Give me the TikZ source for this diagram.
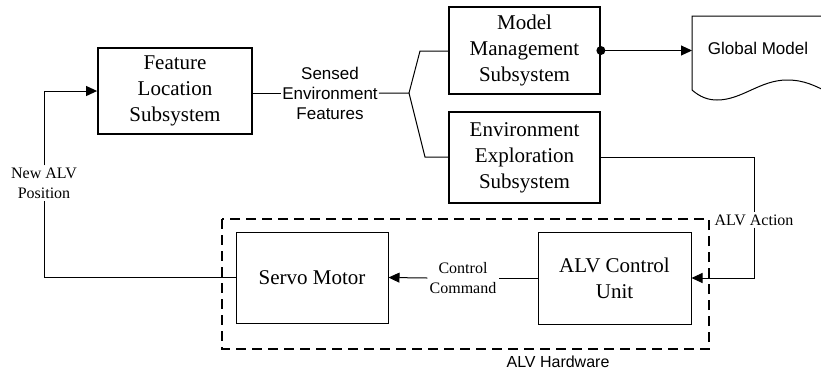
\documentclass[tikz,border=0pt]{standalone}
\usepackage{fontspec}
\setmainfont{Liberation Serif}
\setsansfont{Liberation Sans}
\usetikzlibrary{arrows.meta}
\newcommand{\boxfont}{\fontsize{21}{26}\selectfont}
\newcommand{\labelfont}{\fontsize{16}{20}\selectfont}
\newcommand{\sanslabelfont}{\fontsize{17}{20}\selectfont}
\newcommand{\thickline}{1.8pt}
\newcommand{\thinline}{1pt}

\begin{document}
\begin{tikzpicture}[x=1pt,y=-1pt,
    subsystem/.style={draw, line width=\thickline, align=center, font=\boxfont, minimum width=151pt, inner sep=0pt},
    hardware/.style={draw, line width=\thinline, align=center, font=\boxfont, minimum width=152pt, minimum height=91pt, inner sep=0pt},
    flow/.style={line width=\thinline, -{Triangle[length=11pt,width=10pt]}},
    conn/.style={line width=\thinline},
    sanslabel/.style={font=\sffamily\sanslabelfont, align=center, inner sep=1pt},
    seriflabel/.style={font=\labelfont, align=center, inner sep=2pt}]
    \useasboundingbox (0,0) rectangle (821,376);

    %Subsystems
    \node[subsystem, minimum width=154pt, minimum height=86pt] (feature) at (175,91) {Feature\\Location\\Subsystem};
    \node[subsystem, minimum height=87pt] (model) at (524.5,50.5) {Model\\Management\\Subsystem};
    \node[subsystem, minimum height=91pt] (explore) at (524.5,157.5) {Environment\\Exploration\\Subsystem};

    %Hardware
    \draw[line width=1.5pt, dash pattern=on 10pt off 6pt] (222,219) rectangle (709,349);
    \node[hardware] (servo) at (312,277.5) {Servo Motor};
    \node[hardware, minimum width=153pt, minimum height=92pt] (control) at (614.5,278) {ALV Control\\Unit};
    \node[sanslabel, font=\sffamily\fontsize{16}{20}\selectfont] (hwlabel) at (558,362) {ALV Hardware};

    %Global model document
    \draw[line width=1pt] (830,16) -- (692,16) -- (692,90)
        .. controls (700,97) and (708,100) .. (717,100)
        .. controls (742,100) and (760,80) .. (787,80)
        .. controls (805,80) and (815,86) .. (830,93);
    \node[sanslabel] (global) at (758,48) {Global Model};
    \coordinate (docleft) at (692,51);

    %Labels
    \node[sanslabel] (sensed) at (330,93) {Sensed\\Environment\\Features};
    \node[seriflabel] (newpos) at (44,183) {New ALV\\Position};
    \node[seriflabel] (command) at (463,278) {Control\\Command};
    \node[seriflabel] (action) at (754,220) {ALV Action};

    \coordinate (fork) at (409,93);
    \coordinate (forkup) at (420,51);
    \coordinate (forkdown) at (425,157);

    %Connectors
    \draw[conn] (feature.east |- sensed) -- (sensed.west);
    \draw[conn] (sensed.east) -- (fork) -- (forkup) -- (model.west |- forkup);
    \draw[conn] (fork) -- (forkdown) -- (explore.west |- forkdown);
    \fill (model.east) circle (4.5pt);
    \draw[flow] (model.east) -- (model.east -| docleft);
    \draw[conn] (explore.east) -- (explore.east -| action) -- (action.north);
    \draw[flow] (action.south) |- (control.east);
    \draw[conn] (control.west) -- (command.east);
    \draw[flow] (command.west) -- (servo.east);
    \draw[conn] (servo.west) -| (newpos.south);
    \draw[flow] (newpos.north) |- (feature.west);
\end{tikzpicture}
\end{document}
